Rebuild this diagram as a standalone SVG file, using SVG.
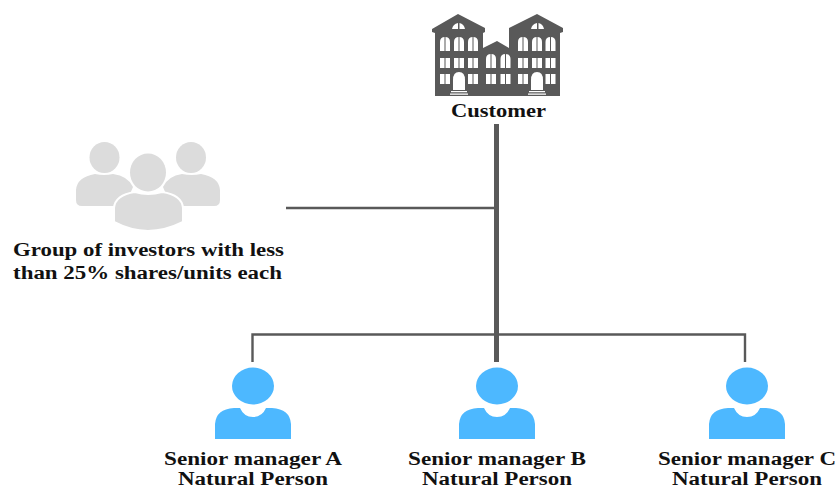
<svg xmlns="http://www.w3.org/2000/svg" width="837" height="489" viewBox="0 0 837 489">
<style>
.t{font-family:"Liberation Serif","Times New Roman",serif;font-weight:bold;font-size:18.5px;fill:#111}
.c{fill:none;stroke:#595959;stroke-width:2.4}
.b{fill:#595959}
.w{fill:#fff}
.g{fill:#dcdcdc}
.p{fill:#4db8ff}
</style>
<defs>
<g id="win"><path class="w" d="M0 14V5Q0 0 5 0T10 5V14Z"/><path class="b" d="M4.500 0h1v14h-1z"/></g>
<g id="sq"><path class="w" d="M0 0h10v10H0z"/><path class="b" d="M4.500 0h1v10h-1z"/></g>
<g id="person"><ellipse class="p" cx="0" cy="0" rx="21" ry="18.500"/><path class="p" d="M-38 53V38Q-37 23 -19 22H-13Q-9 31 0 31T13 22H19Q37 23 38 38V53Z"/></g>
</defs>
<g id="connectors">
<path class="c" d="M286 208H497"/>
<path class="c" d="M252.500 362V334.500H745V362"/>
<path class="c" d="M497 334V362"/>
<path class="c" style="stroke-width:5" d="M496.500 124V362"/>
</g>
<g id="customer">
<path class="b" d="M432 29L458 14L485 28V32L483 33V48L497 41L509 48V33L509 28L537 14L563 28V32L560 33V96H435V33L432 32Z"/>
<path class="w" d="M452 29Q453 24 458 23V29ZM459.500 23Q464 24 465 29H459.500Z"/>
<path class="w" d="M531 29Q532 24 537 23V29ZM538.500 23Q543 24 544 29H538.500Z"/>
<use href="#win" x="440" y="37"/><use href="#win" x="454" y="37"/><use href="#win" x="468" y="37"/>
<use href="#win" x="518" y="37"/><use href="#win" x="532" y="37"/><use href="#win" x="545.500" y="37"/>
<use href="#win" x="486" y="54"/><use href="#win" x="500.500" y="54"/>
<use href="#sq" x="440" y="58"/><use href="#sq" x="454" y="58"/><use href="#sq" x="468" y="58"/>
<use href="#sq" x="518" y="58"/><use href="#sq" x="532" y="58"/><use href="#sq" x="545.500" y="58"/>
<use href="#sq" x="440" y="74"/><use href="#sq" x="468" y="74"/>
<use href="#sq" x="486" y="74"/><use href="#sq" x="500.500" y="74"/>
<use href="#sq" x="518" y="74"/><use href="#sq" x="545.500" y="74"/>
<path class="w" d="M453 90V80Q453 72 459 72T465 80V90Z"/>
<path class="w" d="M531 90V80Q531 72 537 72T543 80V90Z"/>
<path class="w" d="M451 91h16v1.200h-16zM450 93.500h18v1.200h-18zM529 91h16v1.200h-16zM528 93.500h18v1.200h-18z"/>
<text class="t" x="451" y="117" textLength="95" lengthAdjust="spacingAndGlyphs">Customer</text>
</g>
<g id="investors">
<ellipse class="g" cx="104.500" cy="157.500" rx="15" ry="15.500"/>
<ellipse class="g" cx="191" cy="157.500" rx="15" ry="15.500"/>
<path class="g" d="M76 200V190Q77 177 95 174Q104 176 113 174Q128 176 133 187L125 206H82Q76 206 76 200Z"/>
<path class="g" d="M220 200V190Q219 177 201 174Q192 176 182 174Q168 176 163 187L171 206H214Q220 206 220 200Z"/>
<path class="g" stroke="#fff" stroke-width="2" d="M114 222V208Q115 195 135 192Q148 196 162 192Q182 195 183 208V222Q165 231 148 231T114 222Z"/>
<ellipse class="g" cx="148" cy="172.500" rx="18" ry="19"/>
<text class="t" x="13" y="256" textLength="271" lengthAdjust="spacingAndGlyphs">Group of investors with less</text>
<text class="t" x="13" y="279" textLength="269" lengthAdjust="spacingAndGlyphs">than 25% shares/units each</text>
</g>
<g id="manager-a">
<use href="#person" x="253" y="386"/>
<text class="t" x="164" y="465" textLength="178" lengthAdjust="spacingAndGlyphs">Senior manager A</text>
<text class="t" x="178" y="484.500" textLength="150" lengthAdjust="spacingAndGlyphs">Natural Person</text>
</g>
<g id="manager-b">
<use href="#person" x="497" y="386"/>
<text class="t" x="408" y="465" textLength="178" lengthAdjust="spacingAndGlyphs">Senior manager B</text>
<text class="t" x="422" y="484.500" textLength="150" lengthAdjust="spacingAndGlyphs">Natural Person</text>
</g>
<g id="manager-c">
<use href="#person" x="747" y="386"/>
<text class="t" x="658" y="465" textLength="178" lengthAdjust="spacingAndGlyphs">Senior manager C</text>
<text class="t" x="672" y="484.500" textLength="150" lengthAdjust="spacingAndGlyphs">Natural Person</text>
</g>
</svg>
